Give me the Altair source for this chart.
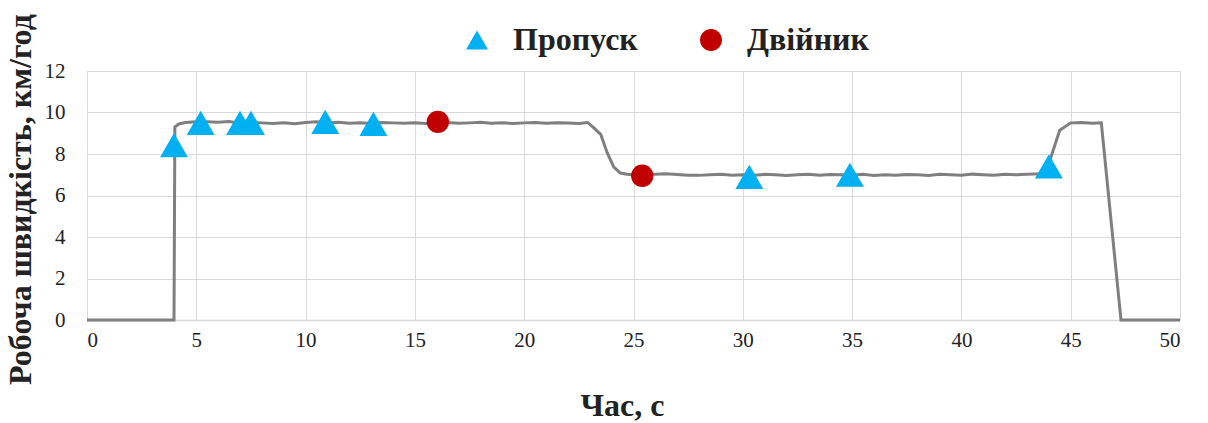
import altair as alt
import pandas as pd

# Line: measured working speed over time
line_t = [0, 3.98, 4.02, 4.2, 4.5, 5.0, 5.5, 6.0, 6.5, 7.0, 7.5, 8.0, 8.5, 9.0, 9.5,
          10.0, 10.5, 11.0, 11.5, 12.0, 12.5, 13.0, 13.5, 14.0, 14.5, 15.0, 15.5,
          16.0, 16.5, 17.0, 17.5, 18.0, 18.5, 19.0, 19.5, 20.0, 20.5, 21.0, 21.5,
          22.0, 22.5, 22.9, 23.2, 23.5, 23.8, 24.1, 24.4, 24.7, 25.0, 25.5, 26.0,
          26.5, 27.0, 27.5, 28.0, 28.5, 29.0, 29.5, 30.0, 30.5, 31.0, 31.5, 32.0,
          32.5, 33.0, 33.5, 34.0, 34.5, 35.0, 35.5, 36.0, 36.5, 37.0, 37.5, 38.0,
          38.5, 39.0, 39.5, 40.0, 40.5, 41.0, 41.5, 42.0, 42.5, 43.0, 43.6, 44.05,
          44.5, 45.0, 45.5, 46.0, 46.4, 47.3, 50.0]
line_v = [0, 0, 9.3, 9.45, 9.52, 9.55, 9.56, 9.53, 9.57, 9.48, 9.52, 9.5, 9.47, 9.5, 9.46,
          9.52, 9.55, 9.5, 9.53, 9.48, 9.51, 9.47, 9.52, 9.5, 9.48, 9.51, 9.47,
          9.5, 9.52, 9.48, 9.5, 9.53, 9.48, 9.5, 9.47, 9.5, 9.52, 9.48, 9.51,
          9.49, 9.47, 9.52, 9.25, 8.95, 8.05, 7.37, 7.08, 7.02, 7.0, 6.97, 7.03,
          7.05, 7.01, 6.98, 6.97, 7.0, 7.02, 6.98, 7.0, 6.98, 7.02, 7.0, 6.97,
          7.0, 7.02, 6.98, 7.01, 7.0, 6.98, 7.02, 6.97, 7.0, 6.98, 7.01, 7.0,
          6.97, 7.02, 7.0, 6.98, 7.03, 7.0, 6.98, 7.02, 7.0, 7.03, 7.05, 7.7,
          9.15, 9.5, 9.52, 9.48, 9.5, 0, 0]

# Markers
skip_t = [3.98, 5.2, 7.0, 7.5, 10.9, 13.1, 30.3, 34.9, 44.0]
skip_v = [8.43, 9.5, 9.5, 9.5, 9.55, 9.45, 6.9, 7.0, 7.4]
twin_t = [16.05, 25.4]
twin_v = [9.55, 6.95]

series_names = ["Пропуск", "Двійник"]
series_colors = ["#00B0F0", "#C00000"]
series_shapes = ["triangle-up", "circle"]

x_ticks = [0, 5, 10, 15, 20, 25, 30, 35, 40, 45, 50]
y_ticks = [0, 2, 4, 6, 8, 10, 12]

line_df = pd.DataFrame({"t": line_t, "v": line_v})
mk_df = pd.DataFrame({
    "t": skip_t + twin_t,
    "v": skip_v + twin_v,
    "s": [series_names[0]] * len(skip_t) + [series_names[1]] * len(twin_t),
})

serif = "Liberation Serif"

x_enc = alt.X("t:Q", scale=alt.Scale(domain=[0, 50], nice=False),
              axis=alt.Axis(values=x_ticks, title="Час, с", format="d", titleX=535))
y_enc = alt.Y("v:Q", scale=alt.Scale(domain=[0, 12], nice=False),
              axis=alt.Axis(values=y_ticks, title="Робоча швидкість, км/год",
                            format="d", titleX=-50, titleY=128))

line = alt.Chart(line_df).mark_line(color="#7f7f7f", strokeWidth=3).encode(
    x=x_enc, y=y_enc, order="t:Q")

legend = alt.Legend(title=None, orient="none", direction="horizontal",
                    legendX=374, legendY=-47)
color_enc = alt.Color("s:N", scale=alt.Scale(domain=series_names, range=series_colors),
                      legend=legend)
shape_enc = alt.Shape("s:N", scale=alt.Scale(domain=series_names, range=series_shapes),
                      legend=legend)

tri = alt.Chart(mk_df).transform_filter(alt.datum.s == series_names[0]).mark_point(
    filled=True, opacity=1, size=780).encode(x="t:Q", y="v:Q", color=color_enc, shape=shape_enc)
circ = alt.Chart(mk_df).transform_filter(alt.datum.s == series_names[1]).mark_point(
    filled=True, opacity=1, size=500).encode(x="t:Q", y="v:Q", color=color_enc, shape=shape_enc)

chart = alt.layer(line, tri, circ).properties(
    width=1093, height=249,
    autosize=alt.AutoSizeParams(type="none"),
    padding={"left": 87, "top": 71, "right": 28, "bottom": 103},
).configure_view(strokeWidth=0).configure_axis(
    grid=True, gridColor="#d9d9d9", gridWidth=1,
    domainColor="#d9d9d9", domainWidth=1.5, ticks=False,
    labelFont=serif, labelFontSize=21, labelColor="#222222",
    titleFont=serif, titleFontSize=32, titleFontWeight="bold", titleColor="#222222",
).configure_axisX(labelPadding=9, titlePadding=40).configure_axisY(
    labelPadding=22, domain=False
).configure_legend(
    labelFont=serif, labelFontSize=32, labelFontWeight="bold", labelColor="#222222",
    symbolSize=480, symbolStrokeWidth=0, labelOffset=20, columnPadding=57,
)

chart.save("out.html", embed_options={"renderer": "svg", "actions": False})
